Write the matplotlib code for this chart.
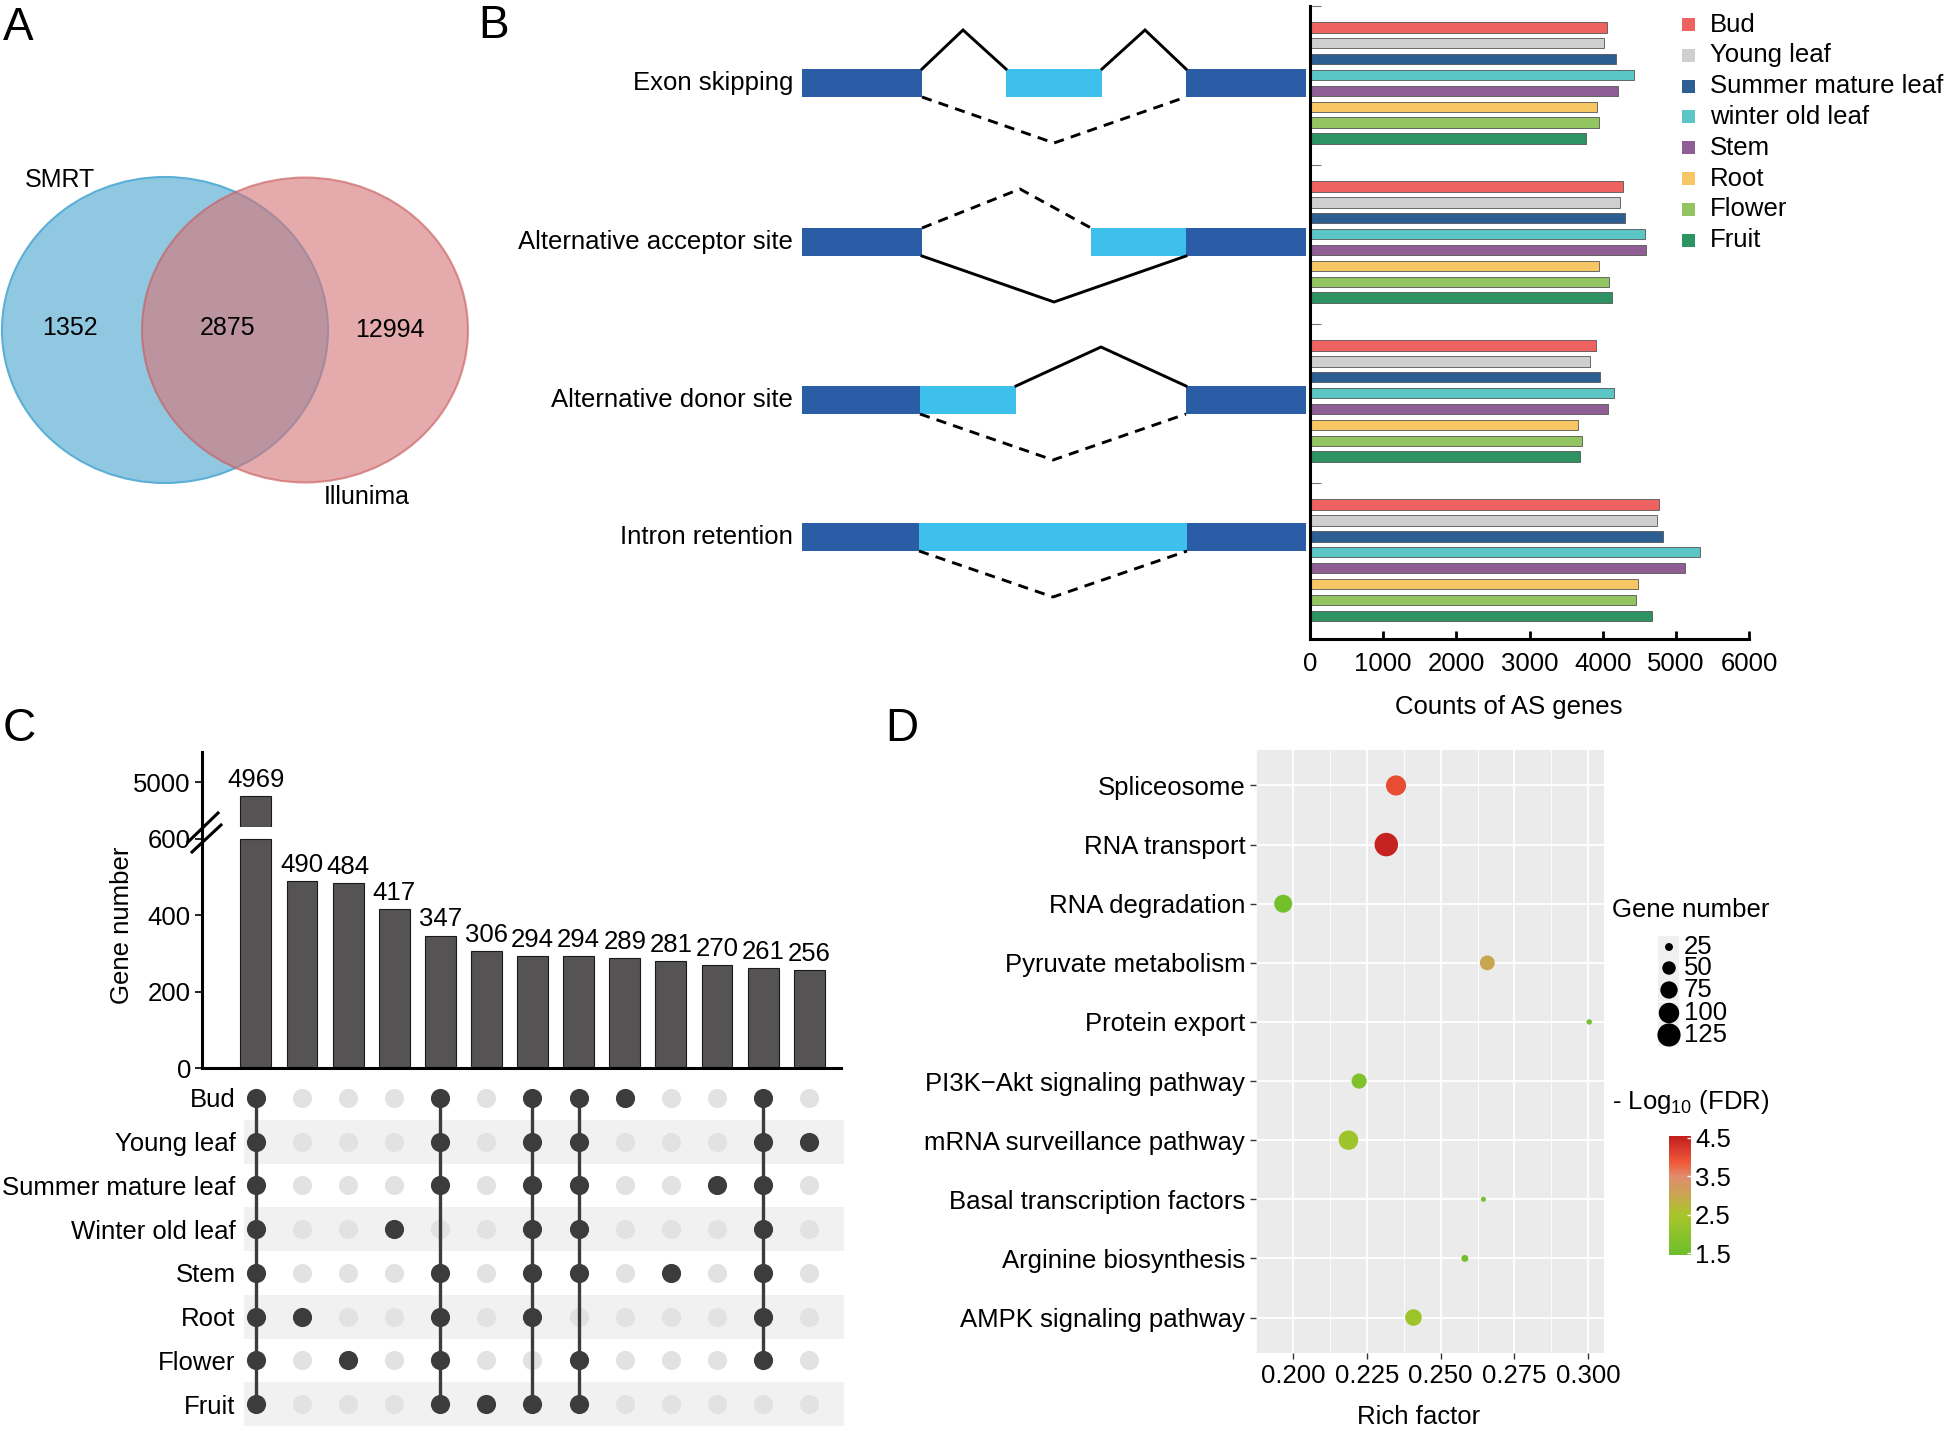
import matplotlib
matplotlib.use("Agg")
import matplotlib.pyplot as plt
import numpy as np
from matplotlib.cm import ScalarMappable
from matplotlib.colors import LinearSegmentedColormap, Normalize
from matplotlib.patches import Ellipse, Rectangle

plt.rcParams["font.family"] = ["Liberation Sans", "DejaVu Sans"]
plt.rcParams["mathtext.fontset"] = "custom"
plt.rcParams["mathtext.rm"] = "Liberation Sans"

W, H = 1946, 1430
FS = 18.5

# A: Venn counts
VENN_NAMES = ["SMRT", "Illunima"]
VENN_COUNTS = [1352, 2875, 12994]  # SMRT only, shared, Illumina only

# B: AS events per tissue
AS_TYPES = ["Exon skipping", "Alternative acceptor site", "Alternative donor site", "Intron retention"]
TISSUES = ["Bud", "Young leaf", "Summer mature leaf", "winter old leaf", "Stem", "Root", "Flower", "Fruit"]
TISSUE_COLORS = ["#EF6262", "#CFCFCF", "#2D5E91", "#5CC6C6", "#8F5E94", "#F7C665", "#93C462", "#2E9363"]
EXON_SKIPPING = [4060, 4018, 4187, 4425, 4215, 3922, 3945, 3776]
ACCEPTOR_SITE = [4279, 4242, 4306, 4580, 4589, 3954, 4087, 4132]
DONOR_SITE = [3909, 3826, 3959, 4155, 4078, 3658, 3721, 3689]
INTRON_RETENTION = [4772, 4744, 4826, 5329, 5132, 4484, 4461, 4676]
B_TICKS = [0, 1000, 2000, 3000, 4000, 5000, 6000]

# C: upset plot
UPSET_SETS = ["Bud", "Young leaf", "Summer mature leaf", "Winter old leaf", "Stem", "Root", "Flower", "Fruit"]
UPSET_COUNTS = [4969, 490, 484, 417, 347, 306, 294, 294, 289, 281, 270, 261, 256]
UPSET_MEMBERS = [
    [0, 1, 2, 3, 4, 5, 6, 7],
    [5],
    [6],
    [3],
    [0, 1, 2, 4, 5, 6, 7],
    [7],
    [0, 1, 2, 3, 4, 5, 7],
    [0, 1, 2, 3, 4, 6, 7],
    [0],
    [4],
    [2],
    [0, 1, 2, 3, 4, 5, 6],
    [1],
]
LOWER_MAX = 600
UPPER_RANGE = (4900, 5067)

# D: KEGG enrichment
PATHWAYS = ["Spliceosome", "RNA transport", "RNA degradation", "Pyruvate metabolism",
            "Protein export", "PI3K\u2212Akt signaling pathway", "mRNA surveillance pathway",
            "Basal transcription factors", "Arginine biosynthesis", "AMPK signaling pathway"]
RICH_FACTOR = [0.2349, 0.2316, 0.1967, 0.2658, 0.3003, 0.2224, 0.2188, 0.2645, 0.2582, 0.2408]
GENE_NUMBER = [97, 128, 80, 58, 18, 60, 92, 17, 22, 70]
NEG_LOG_FDR = [4.0, 4.5, 1.6, 3.0, 1.6, 1.8, 2.3, 1.6, 1.6, 2.3]
SIZE_BREAKS = [25, 50, 75, 100, 125]
FDR_TICKS = [1.5, 2.5, 3.5, 4.5]


def add_px_axes(fig, x0, y0, x1, y1):
    return fig.add_axes([x0 / W, 1 - y1 / H, (x1 - x0) / W, (y1 - y0) / H])


def dot_size(n):
    # area grows linearly with gene number, like ggplot's scale_size
    diam_px = np.sqrt(np.maximum(3.92 * np.asarray(n, float) - 46, 4)) * 1.1
    return (diam_px * 0.72) ** 2


fig = plt.figure(figsize=(W / 100, H / 100), dpi=100)

# ---------------- B bars ----------------
ax_b = add_px_axes(fig, 1310, 6, 1749, 639)
b_values = np.array([EXON_SKIPPING, ACCEPTOR_SITE, DONOR_SITE, INTRON_RETENTION])
groups = np.arange(len(AS_TYPES))
for k, (tissue, color) in enumerate(zip(TISSUES, TISSUE_COLORS)):
    ax_b.barh(groups + 0.134 + k * 0.1, b_values[:, k], height=0.066, color=color,
              edgecolor="#555555", linewidth=0.6, label=tissue)
ax_b.set_xlim(0, 6000)
ax_b.set_ylim(3.98, 0)
ax_b.set_xticks(B_TICKS)
ax_b.set_yticks(groups)
ax_b.set_yticklabels([])
ax_b.tick_params(axis="x", direction="in", length=6, width=2, labelsize=FS, pad=9)
ax_b.tick_params(axis="y", direction="in", length=8, width=0.8, color="#777777")
for side in ["top", "right"]:
    ax_b.spines[side].set_visible(False)
for side in ["left", "bottom"]:
    ax_b.spines[side].set_linewidth(2.2)
ax_b.set_xlabel("Counts of AS genes", fontsize=FS, va="center")
ax_b.xaxis.set_label_coords(0.453, -0.107)

# ---------------- C upset ----------------
xs = np.arange(len(UPSET_COUNTS))
counts = np.array(UPSET_COUNTS)
ax_up = add_px_axes(fig, 202, 752, 841, 827)
ax_lo = add_px_axes(fig, 202, 839, 841, 1068)
bar_kw = dict(width=0.67, color="#555353", edgecolor="#1a1a1a", linewidth=0.8)
ax_lo.bar(xs, np.minimum(counts, LOWER_MAX), clip_on=False, **bar_kw)
big = counts > LOWER_MAX
ax_up.bar(xs[big], counts[big] - UPPER_RANGE[0], bottom=UPPER_RANGE[0], **bar_kw)
for ax in (ax_up, ax_lo):
    ax.set_xlim(-1.17, 12.69)
    ax.set_xticks([])
    ax.spines["top"].set_visible(False)
    ax.spines["right"].set_visible(False)
    ax.spines["left"].set_linewidth(2.2)
    ax.tick_params(axis="y", length=5, width=1.2, labelsize=FS, pad=3)
ax_up.spines["bottom"].set_visible(False)
ax_lo.spines["bottom"].set_linewidth(2.2)
ax_lo.set_ylim(0, LOWER_MAX)
ax_lo.set_yticks([0, 200, 400, 600])
ax_up.set_ylim(*UPPER_RANGE)
ax_up.set_yticks([5000])
for x, v in zip(xs, counts):
    target = ax_up if v > LOWER_MAX else ax_lo
    target.annotate(str(v), (x, v), xytext=(0, 3), textcoords="offset points",
                    ha="center", va="bottom", fontsize=FS)

ax_m = add_px_axes(fig, 244, 1076, 844, 1426)
n_sets = len(UPSET_SETS)
for r in range(1, n_sets, 2):
    ax_m.axhspan(r - 0.5, r + 0.5, color="#F1F1F1", zorder=0, linewidth=0)
gx, gy = np.meshgrid(xs, np.arange(n_sets))
ax_m.scatter(gx.ravel(), gy.ravel(), s=190, color="#E2E2E2", zorder=2, linewidths=0)
for x, members in zip(xs, UPSET_MEMBERS):
    if len(members) > 1:
        ax_m.plot([x, x], [min(members), max(members)], color="#3C3C3C", lw=2.4, zorder=3)
    ax_m.scatter([x] * len(members), members, s=190, color="#3C3C3C", zorder=4, linewidths=0)
ax_m.set_xlim(-0.26, 12.76)
ax_m.set_ylim(n_sets - 0.5, -0.5)
ax_m.set_xticks([])
ax_m.set_yticks(range(n_sets))
ax_m.set_yticklabels(UPSET_SETS, fontsize=FS)
ax_m.tick_params(axis="y", length=0, pad=6)
for s in ax_m.spines.values():
    s.set_visible(False)

# ---------------- D bubble ----------------
ax_d = add_px_axes(fig, 1256, 750, 1604, 1353)
ax_d.set_facecolor("#EBEBEB")
cmap_vals = [1.45, 2.5, 3.0, 3.5, 3.85, 4.55]
cmap_cols = ["#6CBE2C", "#A8C62A", "#C8A650", "#E08C70", "#F05A38", "#C21E1E"]
norm = Normalize(cmap_vals[0], cmap_vals[-1])
stops = np.clip((np.array(cmap_vals) - cmap_vals[0]) / (cmap_vals[-1] - cmap_vals[0]), 0, 1)
stops[0], stops[-1] = 0.0, 1.0
cmap = LinearSegmentedColormap.from_list("fdr", list(zip(stops.tolist(), cmap_cols)))
ys = np.arange(1, len(PATHWAYS) + 1)
ax_d.scatter(RICH_FACTOR, ys, s=dot_size(GENE_NUMBER), c=NEG_LOG_FDR, cmap=cmap, norm=norm,
             linewidths=0, zorder=3)
ax_d.set_xlim(0.1908, 0.3053)
ax_d.set_ylim(len(PATHWAYS) + 0.6, 0.4)
d_ticks = [0.200, 0.225, 0.250, 0.275, 0.300]
ax_d.set_xticks(d_ticks)
ax_d.set_xticklabels([f"{t:.3f}" for t in d_ticks])
ax_d.set_xticks([0.1875, 0.2125, 0.2375, 0.2625, 0.2875], minor=True)
ax_d.set_yticks(ys)
ax_d.set_yticklabels(PATHWAYS)
ax_d.tick_params(which="major", length=4.3, width=1, color="#333333", labelsize=FS, pad=3.5)
ax_d.tick_params(which="minor", length=0)
ax_d.grid(which="major", color="white", linewidth=1.3)
ax_d.grid(which="minor", axis="x", color="white", linewidth=0.6)
ax_d.set_axisbelow(True)
for s in ax_d.spines.values():
    s.set_visible(False)
ax_d.set_xlabel("Rich factor", fontsize=FS, va="center")
ax_d.xaxis.set_label_coords(0.468, -0.106)

cax = add_px_axes(fig, 1669, 1136, 1691, 1255)
cb = fig.colorbar(ScalarMappable(norm=norm, cmap=cmap), cax=cax, ticks=FDR_TICKS)
cb.outline.set_visible(False)
cb.ax.tick_params(length=3, width=1, color="white", direction="in", labelsize=FS, pad=3)
cb.ax.set_yticklabels([f"{t:.1f}" for t in FDR_TICKS])

# ---------------- overlay: A, B schematic, legends, letters ----------------
ov = fig.add_axes([0, 0, 1, 1])
ov.set_xlim(0, W)
ov.set_ylim(H, 0)
ov.axis("off")
ov.patch.set_alpha(0)

# panel A
ov.add_patch(Ellipse((165, 330), 326, 306, facecolor="#91C8E1", edgecolor="#5BAFD6", lw=1.5))
ov.add_patch(Ellipse((305, 330), 326, 305, facecolor="#D67477", alpha=0.61,
                     edgecolor="#C85A5A", lw=1.5))
for (x, y), v in zip([(70, 328), (228, 328), (390, 330)], VENN_COUNTS):
    ov.text(x, y, str(v), fontsize=18, ha="center", va="center")
ov.text(60, 180, VENN_NAMES[0], fontsize=18, ha="center", va="center")
ov.text(367, 497, VENN_NAMES[1], fontsize=18, ha="center", va="center")

# panel B schematic (gene models drawn in pixel space)
DARK, LIGHT = "#2B5DA6", "#3EC0EC"
rows = [83, 242, 400, 537]
half = 14
exons = [
    [(802, 922, DARK), (1006, 1102, LIGHT), (1186, 1306, DARK)],
    [(802, 922, DARK), (1091, 1186, LIGHT), (1186, 1306, DARK)],
    [(802, 920, DARK), (920, 1016, LIGHT), (1186, 1306, DARK)],
    [(802, 919, DARK), (919, 1187, LIGHT), (1187, 1306, DARK)],
]
junctions = [
    [((922, 963, 1006), -1, "-"), ((1102, 1145, 1186), -1, "-"), ((922, 1054, 1186), 1, "--")],
    [((922, 1020, 1091), -1, "--"), ((922, 1054, 1186), 1, "-")],
    [((1016, 1101, 1186), -1, "-"), ((920, 1053, 1186), 1, "--")],
    [((919, 1053, 1187), 1, "--")],
]
for yc, label, ex, jn in zip(rows, AS_TYPES, exons, junctions):
    ov.text(793, yc, label, fontsize=FS, ha="right", va="center")
    for x0, x1, col in ex:
        ov.add_patch(Rectangle((x0, yc - half), x1 - x0, 2 * half, facecolor=col, edgecolor="none"))
    for (xa, xm, xb), side, ls in jn:
        base = yc + half * side
        peak = yc - 53 if side < 0 else yc + 60
        ov.plot([xa, xm, xb], [base, peak, base], color="black", lw=2.1,
                linestyle=(0, (3.5, 2.5)) if ls == "--" else "-", solid_joinstyle="miter")

# panel B legend
for k, (tissue, color) in enumerate(zip(TISSUES, TISSUE_COLORS)):
    y = 24.5 + 30.8 * k
    ov.add_patch(Rectangle((1682, y - 6.5), 13, 13, facecolor=color, edgecolor="none"))
    ov.text(1710, y, tissue, fontsize=FS, ha="left", va="center")

# panel C extras
ov.plot([202, 202], [826, 840], color="black", lw=2.2, solid_capstyle="butt")
ov.plot([188, 218], [842, 813], color="black", lw=2.2)
ov.plot([192, 221], [852, 825], color="black", lw=2.2)
fig.text(122 / W, 1 - 925 / H, "Gene number", rotation=90, fontsize=FS, ha="center", va="center")

# panel D legends
ov.text(1612, 910, "Gene number", fontsize=FS, ha="left", va="center")
leg_rows = [947, 968, 990, 1013, 1035]
for y in leg_rows:
    ov.add_patch(Rectangle((1658, y - 11), 21, 22, facecolor="#F0F0F0", edgecolor="none"))
ov.scatter([1669] * len(SIZE_BREAKS), leg_rows, s=dot_size(SIZE_BREAKS), color="black",
           linewidths=0, zorder=3)
for y, n in zip(leg_rows, SIZE_BREAKS):
    ov.text(1684, y, str(n), fontsize=FS, ha="left", va="center")
ov.text(1612, 1102, r"- Log$_{\mathrm{10}}$ (FDR)", fontsize=FS, ha="left", va="center")

# panel letters
for letter, (x, y) in zip("ABCD", [(18, 28), (494, 26), (19, 729), (902, 729)]):
    ov.text(x, y, letter, fontsize=33, ha="center", va="center")

fig.savefig("out.png", dpi=100)
